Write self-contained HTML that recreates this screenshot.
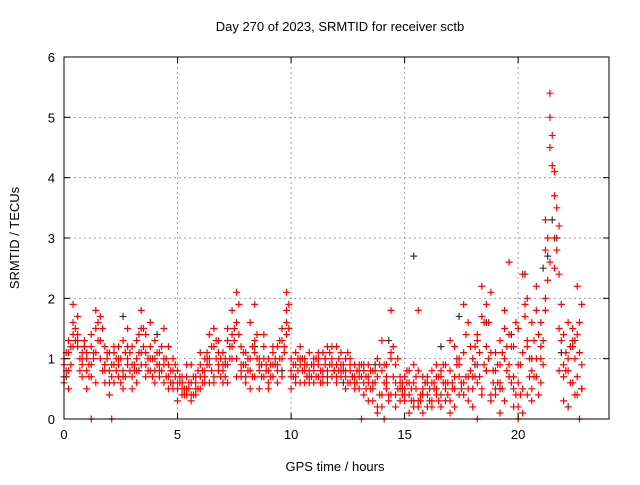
<!DOCTYPE html>
<html><head><meta charset="utf-8"><style>
body{margin:0;background:#fff}
svg text{font-family:"Liberation Sans",sans-serif;font-size:13px;fill:#000}
</style></head><body>
<svg id="chart" width="640" height="480" xmlns="http://www.w3.org/2000/svg">
<rect width="640" height="480" fill="#fff"/>
<text x="340" y="31" text-anchor="middle">Day 270 of 2023, SRMTID for receiver sctb</text>
<text transform="translate(19,238) rotate(-90)" text-anchor="middle">SRMTID / TECUs</text>
<text x="335" y="471" text-anchor="middle">GPS time / hours</text>
<g id="grid"></g><g id="marks"></g><g id="axes"></g>
</svg>
<script>
const xTicks=[0,5,10,15,20];
const yTicks=[0,1,2,3,4,5,6];
const times=[0,0.2,0.4,0.6,0.8,1,1.2,1.4,1.6,1.8,2,2.2,2.4,2.6,2.8,3,3.2,3.4,3.6,3.8,4,4.2,4.4,4.6,4.8,5,5.2,5.4,5.6,5.8,6,6.2,6.4,6.6,6.8,7,7.2,7.4,7.6,7.8,8,8.2,8.4,8.6,8.8,9,9.2,9.4,9.6,9.8,10,10.2,10.4,10.6,10.8,11,11.2,11.4,11.6,11.8,12,12.2,12.4,12.6,12.8,13,13.2,13.4,13.6,13.8,14,14.2,14.4,14.6,14.8,15,15.2,15.4,15.6,15.8,16,16.2,16.4,16.6,16.8,17,17.2,17.4,17.6,17.8,18,18.2,18.4,18.6,18.8,19,19.2,19.4,19.6,19.8,20,20.2,20.4,20.6,20.8,21,21.2,21.4,21.6,21.8,22,22.2,22.4,22.6,22.8];
const times2=[0.1,0.3,0.5,0.7,0.9,1.1,1.3,1.5,1.7,1.9,2.1,2.3,2.5,2.7,2.9,3.1,3.3,3.5,3.7,3.9,4.1,4.3,4.5,4.7,4.9,5.1,5.3,5.5,5.7,5.9,6.1,6.3,6.5,6.7,6.9,7.1,7.3,7.5,7.7,7.9,8.1,8.3,8.5,8.7,8.9,9.1,9.3,9.5,9.7,9.9,10.1,10.3,10.5,10.7,10.9,11.1,11.3,11.5,11.7,11.9,12.1,12.3,12.5,12.7,12.9,13.1,13.3,13.5,13.7,13.9,14.1,14.3,14.5,14.7,14.9,15.1,15.3,15.5,15.7,15.9,16.1,16.3,16.5,16.7,16.9,17.1,17.3,17.5,17.7,17.9,18.1,18.3,18.5,18.7,18.9,19.1,19.3,19.5,19.7,19.9,20.1,20.3,20.5,20.7,20.9,21.1,21.3,21.5,21.7,21.9,22.1,22.3,22.5,22.7];
const redA=[.7,1.3,1.6,1.2,1.0, .8,1.2,1.5,1.0,.6, .6,.9,1.2,.5,1.0, .7,1.0,1.8,.9,1.6, 1.0,.7,.9,1.2,.6, .5,.4,.7,.3,.6, .7,1.0,.6,1.2,.9, .8,1.3,1.8,1.0,.7, .7,1.0,1.9,.8,1.2, .8,1.1,.6,1.5,2.1, 1.0,.7,.9,.6,.8, .8,1.0,.7,1.2,.9, .9,.7,1.0,.8,.6, .8,.6,.9,.3,.7, .4,.9,1.8,.6,.3, .3,.6,.2,.8,.4, .2,.6,.4,.8,.5, .3,1.2,.7,.4,1.6, .5,1.4,2.2,.8,.3, .4,.9,1.5,.7,1.2, .6,2.4,1.2,.3,1.0, 1.6,3.3,5.4,3.7,2.4, 1.4,.8,1.5,2.2,.5];
const redB=[.9,.8,1.9,1.4,1.1, 1.0,.7,1.8,1.3,.9, .8,1.1,.7,1.3,.9, 1.2,.8,1.1,1.4,1.0, .8,1.1,.6,.9,.5, .8,.6,.4,.9,.5, .5,.8,1.4,.7,1.1, 1.1,.6,1.4,2.1,.9, .9,.5,1.3,1.0,.7, .5,.9,1.2,.7,1.8, .8,1.1,.6,1.0,.7, .6,.9,1.1,.7,1.0, .7,1.1,.8,.6,.9, .5,.9,.6,.8,.2, .8,.5,1.1,.2,.7, .5,.1,.9,.3,.7, .7,.3,.9,.2,.6, .8,.2,1.0,.6,.3, 1.0,.6,1.7,1.2,.4, .8,1.3,.3,2.6,.5, 1.5,.5,2.0,.8,1.8, 1.0,2.8,4.5,4.1,3.2, .7,1.6,1.2,.4,1.9];
const redC=[.6,1.1,1.2,1.7,.9, .5,1.4,1.1,1.7,1.2, .4,1.2,1.0,.8,1.5, .5,1.3,.9,.7,1.2, 1.3,.9,1.5,.7,1.0, .3,.7,.5,.6,.4, .9,.6,1.0,1.5,.8, .9,1.5,1.0,.7,1.2, 1.1,1.6,.7,.9,1.4, 1.0,.7,.9,1.3,1.6, .5,.9,1.2,.8,.6, 1.0,.7,.8,.6,1.2, 1.2,.8,.5,.9,.7, .9,.4,.7,.5,1.0, 1.3,.6,.4,.9,.5, .7,.4,.6,.2,.5, .4,.8,.5,.7,.3, 1.3,.5,.9,1.9,.7, .2,.9,.5,1.9,1.1, 1.1,.6,1.8,.9,.2, .2,1.1,.4,1.6,.7, .6,2.0,5.0,3.0,1.5, .3,1.0,.6,1.4,.9];
const redD=[1.0,.5,1.4,1.3,.7, 1.1,.9,.6,1.3,.8, 1.1,.6,.9,.7,1.2, .9,.6,1.5,1.1,.8, .6,.8,1.0,.5,.8, .6,.5,.9,.4,.7, 1.1,.7,.9,.6,1.3, .6,.9,1.2,1.6,.8, .6,.8,1.1,.5,1.0, .6,1.2,.8,1.0,1.4, .7,.6,1.0,.9,1.1, .9,1.1,.6,.8,.7, .6,.9,.7,1.0,.5, .7,.8,.3,.6,.1, .2,.7,1.0,.4,.6, .4,.8,.3,1.8,.1, .6,.2,.7,.4,.9, .1,.7,.4,1.1,.5, .7,1.3,.4,.8,2.1, .5,.1,1.0,1.4,.7, .9,.1,1.3,.5,2.2, 1.2,1.8,2.6,2.5,.8, .9,.2,1.3,.7,.5];
const redE=[.8,1.2,1.5,1.0,1.3, .9,1.1,1.6,.8,1.0, .7,1.0,.6,1.1,.8, .9,1.4,1.2,.8,1.0, .9,1.2,.7,.6,.9, .6,.4,.5,.7,.5, .8,.9,1.2,1.0,.7, 1.0,1.2,1.5,1.9,1.1, .8,1.2,1.0,.7,.9, .9,1.0,1.3,1.1,1.5, .9,.8,1.0,.7,.9, .7,.8,1.0,.9,.8, 1.0,.8,.6,.7,.8, .7,.5,.8,.6,.9, .6,.4,1.2,.5,.4, .6,.3,.5,.4,.6, .3,.5,.7,.6,.4, .5,.9,.6,1.4,.8, .7,1.1,1.6,1.0,.6, .6,1.1,.8,1.2,.4, .9,1.7,.7,1.3,.4, 1.3,3.0,4.7,3.5,1.9, 1.1,.6,1.0,1.6];
const redF=[1.1,.9,1.3,.8,1.2, .7,1.0,1.3,1.5,1.1, .9,.8,1.0,.7,1.1, .8,1.1,1.5,1.0,.7, 1.1,.8,1.0,.8,.7, .7,.5,.6,.4,.8, .6,1.1,.8,1.3,1.0, .7,1.0,1.3,1.4,.9, 1.0,.7,1.4,.9,.8, .7,.9,1.0,1.2,1.9, .7,1.0,.8,.9,.7, 1.0,.6,.9,1.1,.8, .8,.9,1.1,.7,.6, .9,.7,.5,.8,.4, .9,.3,.7,1.0,.6, .8,.5,.7,.3,.6, .5,.6,.3,.9,.6, .6,1.0,.5,.7,1.2, 1.2,.7,.9,1.6,.8, .9,.5,1.2,.6,1.6, .4,1.9,1.0,.7,1.4, .9,2.3,4.2,2.8,1.3, .8,1.2,.4,1.1];
const blackT=[0.1,0.9,1.8,2.6,3.3,4.1,5.2,6.3,7.1,8.4,9.6,10.7,11.5,12.3,13.7,14.3,14.9,15.4,15.8,16.6,17.4,18.1,18.6,19.2,19.7,20.3,20.6,21.1,21.3,21.5,21.7,21.9,22.2,22.5];
const blackV=[0.7,1.2,0.9,1.7,0.8,1.4,0.6,1.0,0.9,1.2,0.8,0.7,1.0,0.6,0.9,1.3,0.5,2.7,0.4,1.2,1.7,0.9,1.6,0.5,1.4,2.4,1.0,2.5,2.7,3.3,3.0,1.1,0.2,1.3];
const zeroT=[1.2,2.1,13.1,14.1,18.2,20.0,22.7];

const L=64,R=609,T=57,B=419,XMAX=24,YMAX=6;
const xs=t=>L+(R-L)*t/XMAX, ys=v=>B-(B-T)*v/YMAX;
const NS="http://www.w3.org/2000/svg";
function mk(tag,at,parent){const e=document.createElementNS(NS,tag);for(const k in at)e.setAttribute(k,at[k]);parent.appendChild(e);return e;}
const grid=document.getElementById('grid'),marks=document.getElementById('marks'),axes=document.getElementById('axes');
xTicks.forEach(t=>{
  if(t>0){const g=mk('line',{x1:xs(t),x2:xs(t),y1:T,y2:B,stroke:'#a0a0a0','stroke-dasharray':'2,3'},grid);
  
  }
  mk('line',{x1:xs(t),x2:xs(t),y1:B,y2:B-6,stroke:'#000'},axes);
  mk('line',{x1:xs(t),x2:xs(t),y1:T,y2:T+6,stroke:'#000'},axes);
  const tx=mk('text',{x:xs(t),y:B+20,'text-anchor':'middle'},axes);tx.textContent=t;
  
  
});
yTicks.forEach(v=>{
  if(v>0&&v<YMAX){const g=mk('line',{x1:L,x2:R,y1:ys(v),y2:ys(v),stroke:'#a0a0a0','stroke-dasharray':'2,3'},grid);
  
  }
  mk('line',{x1:L,x2:L+6,y1:ys(v),y2:ys(v),stroke:'#000'},axes);
  mk('line',{x1:R,x2:R-6,y1:ys(v),y2:ys(v),stroke:'#000'},axes);
  const tx=mk('text',{x:L-9,y:ys(v)+5,'text-anchor':'end'},axes);tx.textContent=v;
  
  
});
const frame=mk('rect',{x:L,y:T,width:R-L,height:B-T,fill:'none',stroke:'#000'},axes);


function plus(t,v,color,name){
  const x=xs(t),y=ys(v);
  const p=mk('path',{d:`M${x-3.5} ${y}H${x+3.5}M${x} ${y-3.5}V${y+3.5}`,stroke:color,'stroke-width':1.2,fill:'none'},marks);
  
  
}
blackT.forEach((t,i)=>plus(t,blackV[i],'#333','black-point'));
[redA,redB,redC,redD].forEach(s=>times.forEach((t,i)=>plus(t,s[i],'#f00','red-point')));
[redE,redF].forEach(s=>times2.forEach((t,i)=>plus(t,s[i],'#f00','red-point')));
zeroT.forEach(t=>plus(t,0,'#f00','red-point-zero'));
</script>
</body></html>
